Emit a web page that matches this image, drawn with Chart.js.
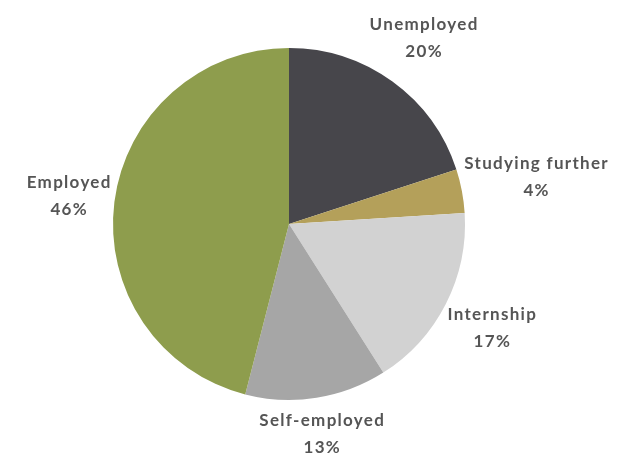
<!DOCTYPE html>
<html>
<head>
<meta charset="utf-8">
<script src="https://cdn.jsdelivr.net/npm/chart.js@4"></script>
<style>
  html, body { margin: 0; padding: 0; background: #fff; }
  #wrap { width: 632px; height: 455px; position: relative; }
</style>
</head>
<body>
<div id="wrap"><canvas id="canva"></canvas></div>
<script>
const labels = ["Unemployed", "Studying further", "Internship", "Self-employed", "Employed"];
const shares = [20, 4, 17, 13, 46];
const colors = ["#47464b", "#b4a05a", "#d2d2d2", "#a6a6a6", "#8e9d4d"];

const labelFont = "bold 17px Lato";
const lineGap = 27;

// draws "name / xx%" outside each slice, along its mid angle
const outsideLabels = {
  id: "outsideLabels",
  afterDatasetsDraw(chart) {
    const ctx = chart.ctx;
    const arcs = chart.getDatasetMeta(0).data;
    ctx.save();
    ctx.font = labelFont;
    ctx.letterSpacing = "1.3px";
    ctx.fillStyle = "#555555";
    ctx.textAlign = "center";
    ctx.textBaseline = "middle";
    arcs.forEach((arc, i) => {
      const p = arc.getProps(["x", "y", "startAngle", "endAngle", "outerRadius"], true);
      const mid = (p.startAngle + p.endAngle) / 2;
      const pct = shares[i] + "%";
      const w = Math.max(ctx.measureText(labels[i]).width, ctx.measureText(pct).width);
      const h = lineGap * 2;
      const cx = Math.cos(mid), sy = Math.sin(mid);
      const ext = Math.abs(cx) * w / 2 + Math.abs(sy) * h / 2;
      const d = p.outerRadius + ext;
      const x = p.x + cx * d;
      const y = p.y + sy * d;
      ctx.fillText(labels[i], x, y - lineGap / 2);
      ctx.fillText(pct, x, y + lineGap / 2);
    });
    ctx.restore();
  }
};

new Chart(document.getElementById("canva"), {
  type: "pie",
  data: {
    labels: labels,
    datasets: [
      {
        data: shares,
        backgroundColor: colors,
        borderWidth: 0,
      },
    ],
  },
  options: {
    responsive: true,
    maintainAspectRatio: false,
    animation: false,
    layout: {
      padding: { top: 48, bottom: 55, left: 113, right: 167 },
    },
    plugins: {
      legend: { display: false },
      tooltip: { enabled: false },
    },
  },
  plugins: [outsideLabels],
});
</script>
</body>
</html>
